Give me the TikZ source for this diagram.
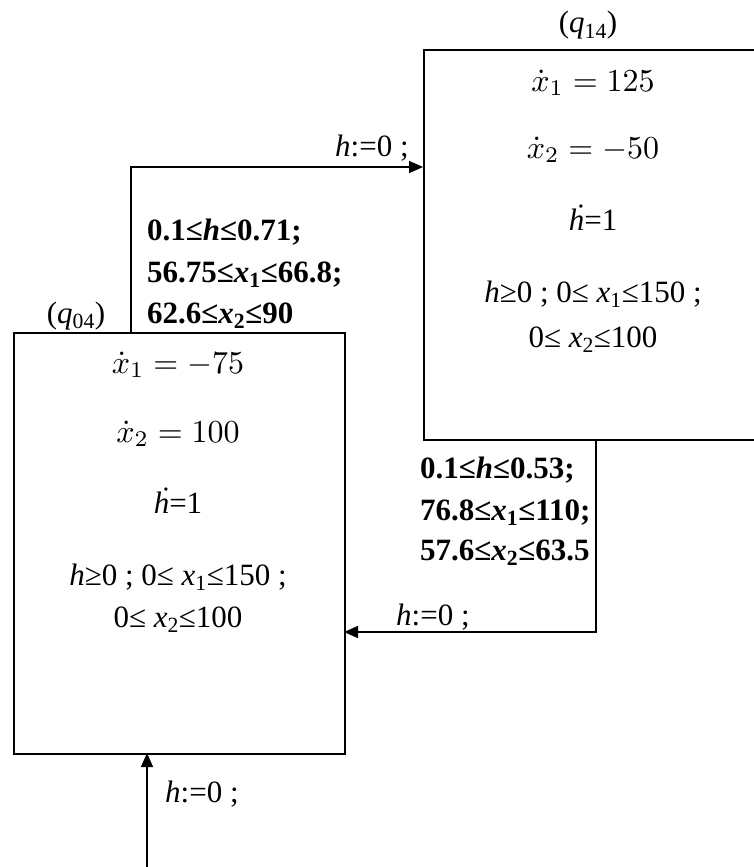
\documentclass[tikz,border=0pt]{standalone}
\usepackage{fontspec}
\setmainfont{Liberation Serif}
\usetikzlibrary{arrows.meta}
\newcommand{\bigmath}[1]{\scalebox{3.2}{$#1$}}
\begin{document}
\begin{tikzpicture}[x=1pt,y=-1pt,
  box/.style={draw, line width=1.6pt, inner sep=0pt, anchor=north west},
  conn/.style={line width=1.4pt, -{Triangle[length=14pt,width=12pt]}},
  txt/.style={font=\fontsize{31}{37}\selectfont, inner sep=0pt, anchor=base},
  mth/.style={font=\normalsize, inner sep=0pt, anchor=base},
  lbl/.style={font=\fontsize{31}{37}\selectfont, inner sep=0pt, anchor=base west},
  guard/.style={font=\bfseries\fontsize{31}{37}\selectfont, inner sep=0pt, anchor=base west},
]
\useasboundingbox (0,0) rectangle (753,867);

% state boxes
\node[box, minimum width=331pt, minimum height=421pt] (q04) at (13,332) {};
\node[box, minimum width=360pt, minimum height=390pt] (q14) at (423,49) {};

% names
\node[txt] (n04) at (76,323) {(\textit{q}\textsubscript{04})};
\node[txt] (n14) at (588,33) {(\textit{q}\textsubscript{14})};

% q04 contents
\node[mth] (a1) at (178,373) {\bigmath{\dot{x}_1 = -75}};
\node[mth] (a2) at (178,442) {\bigmath{\dot{x}_2 = 100}};
\node[txt] (a3) at (178,513) {\textit{\.{h}}=1};
\node[txt] (a4) at (178,585) {\textit{h}≥0 ; 0≤ \textit{x}\textsubscript{1}≤150 ;};
\node[txt] (a5) at (178,627) {0≤ \textit{x}\textsubscript{2}≤100};

% q14 contents
\node[mth] (b1) at (593,91) {\bigmath{\dot{x}_1 = 125}};
\node[mth] (b2) at (593,158) {\bigmath{\dot{x}_2 = -50}};
\node[txt] (b3) at (593,230) {\textit{\.{h}}=1};
\node[txt] (b4) at (593,302) {\textit{h}≥0 ; 0≤ \textit{x}\textsubscript{1}≤150 ;};
\node[txt] (b5) at (593,347) {0≤ \textit{x}\textsubscript{2}≤100};

% connector coordinates
\coordinate (t1) at (131,332);
\coordinate (t2) at (131,167);
\coordinate (t3) at (423,167);
\coordinate (r1) at (596,439);
\coordinate (r2) at (596,632);
\coordinate (r3) at (344,632);
\coordinate (s0) at (147,867);
\coordinate (s1) at (147,753);

% transitions
\draw[conn] (t1) -- (t2) -- (t3);
\draw[conn] (r1) -- (r2) -- (r3);
\draw[conn] (s0) -- (s1);

% guards and resets
\node[guard] (g1) at (147,240) {0.1≤\textit{h}≤0.71;};
\node[guard] (g2) at (147,282) {56.75≤\textit{x}\textsubscript{1}≤66.8;};
\node[guard] (g3) at (147,323) {62.6≤\textit{x}\textsubscript{2}≤90};
\node[lbl] (l1) at (335,156) {\textit{h}:=0 ;};

\node[guard] (g4) at (420,478) {0.1≤\textit{h}≤0.53;};
\node[guard] (g5) at (420,520) {76.8≤\textit{x}\textsubscript{1}≤110;};
\node[guard] (g6) at (420,560) {57.6≤\textit{x}\textsubscript{2}≤63.5};
\node[lbl] (l2) at (396,625) {\textit{h}:=0 ;};

\node[lbl] (l3) at (165,802) {\textit{h}:=0 ;};
\end{tikzpicture}
\end{document}
